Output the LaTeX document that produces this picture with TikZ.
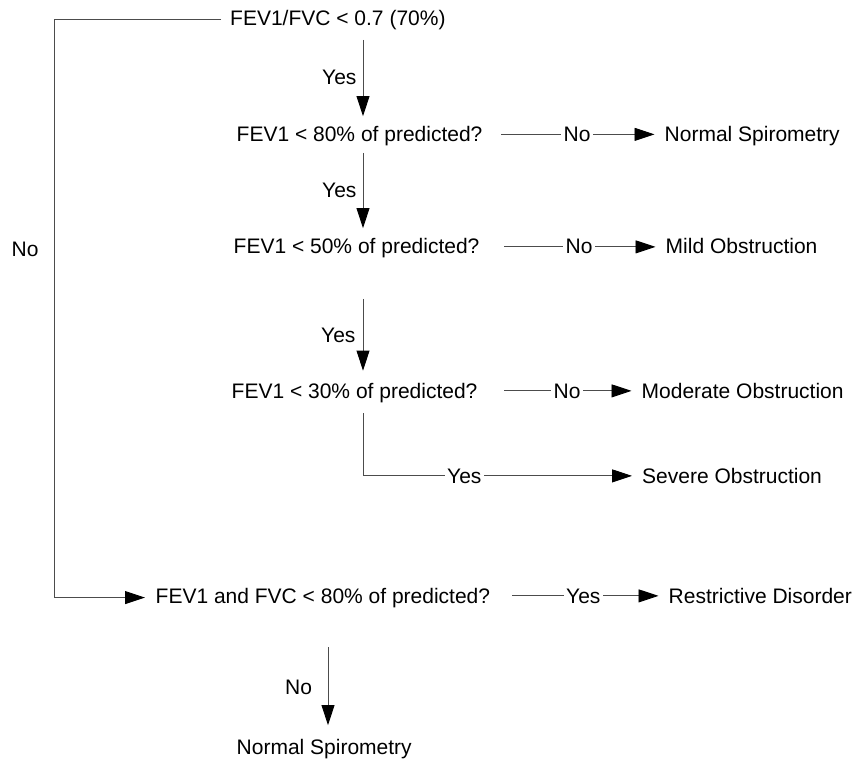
\documentclass[tikz,border=0pt]{standalone}
\usepackage{fontspec}
\setmainfont{Liberation Sans}
\usetikzlibrary{arrows.meta}
\begin{document}
\begin{tikzpicture}[x=1pt,y=-1pt,
  txt/.style={font=\fontsize{21}{25}\selectfont, inner sep=0pt, anchor=base west, text=black},
  lbl/.style={txt, inner xsep=2.5pt, inner ysep=0pt},
  conn/.style={draw=black!70, line width=0.9pt},
  arr/.style={conn, -{Triangle[length=20pt,width=13pt,color=black]}}]
\useasboundingbox (0,0) rectangle (857,759);

% question nodes
\node[txt] (q0) at (230,26) {FEV1/FVC < 0.7 (70\%)};
\node[txt] (q1) at (236.5,141.5) {FEV1 < 80\% of predicted?};
\node[txt] (q2) at (233.5,253.5) {FEV1 < 50\% of predicted?};
\node[txt] (q3) at (231.5,398) {FEV1 < 30\% of predicted?};
\node[txt] (q4) at (155.5,603) {FEV1 and FVC < 80\% of predicted?};

% outcome nodes
\node[txt] (o0) at (236.5,754) {Normal Spirometry};
\node[txt] (o1) at (664.5,141.5) {Normal Spirometry};
\node[txt] (o2) at (665.5,254) {Mild Obstruction};
\node[txt] (o3) at (641.5,398) {Moderate Obstruction};
\node[txt] (o4) at (642,483) {Severe Obstruction};
\node[txt] (o5) at (668.5,603) {Restrictive Disorder};

% side labels
\node[txt] (lno) at (11.5,257) {No};
\node[txt] (ly1) at (322,85) {Yes};
\node[txt] (ly2) at (322,198) {Yes};
\node[txt] (ly3) at (321,342) {Yes};
\node[txt] (lnb) at (285,694) {No};

% in-line labels
\node[lbl] (n1) at (561,141.5) {No};
\node[lbl] (n2) at (563,254) {No};
\node[lbl] (n3) at (551,398) {No};
\node[lbl] (y4) at (444.5,483) {Yes};
\node[lbl] (y5) at (563.5,603) {Yes};

% free ends
\coordinate (a1) at (363,40);
\coordinate (a2) at (363,153);
\coordinate (a3) at (363,299);
\coordinate (a4) at (328,647);
\coordinate (c4) at (363,413);
\coordinate (s1) at (501,135);
\coordinate (s2) at (504,247);
\coordinate (s3) at (504,392);
\coordinate (s5) at (512,597);
\coordinate (L1) at (221,19);
\coordinate (L2) at (54,19);

% vertical yes arrows
\draw[arr, shorten >=10pt] (a1) -- (a1 |- q1.north);
\draw[arr, shorten >=10pt] (a2) -- (a2 |- q2.north);
\draw[arr, shorten >=12pt] (a3) -- (a3 |- q3.north);
\draw[arr, shorten >=13.5pt] (a4) -- (a4 |- o0.north);

% horizontal branches
\draw[conn] (n1.west -| s1) -- (n1.west);
\draw[arr, shorten >=10pt] (n1.east) -- (n1.east -| o1.west);
\draw[conn] (n2.west -| s2) -- (n2.west);
\draw[arr, shorten >=10pt] (n2.east) -- (n2.east -| o2.west);
\draw[conn] (n3.west -| s3) -- (n3.west);
\draw[arr, shorten >=10pt] (n3.east) -- (n3.east -| o3.west);
\draw[conn] (c4) |- (y4.west);
\draw[arr, shorten >=10pt] (y4.east) -- (y4.east -| o4.west);
\draw[conn] (y5.west -| s5) -- (y5.west);
\draw[arr, shorten >=10pt] (y5.east) -- (y5.east -| o5.west);

% left loop
\draw[arr, shorten >=10.5pt] (L1) -- (L2) |- (q4.west);
\end{tikzpicture}
\end{document}
